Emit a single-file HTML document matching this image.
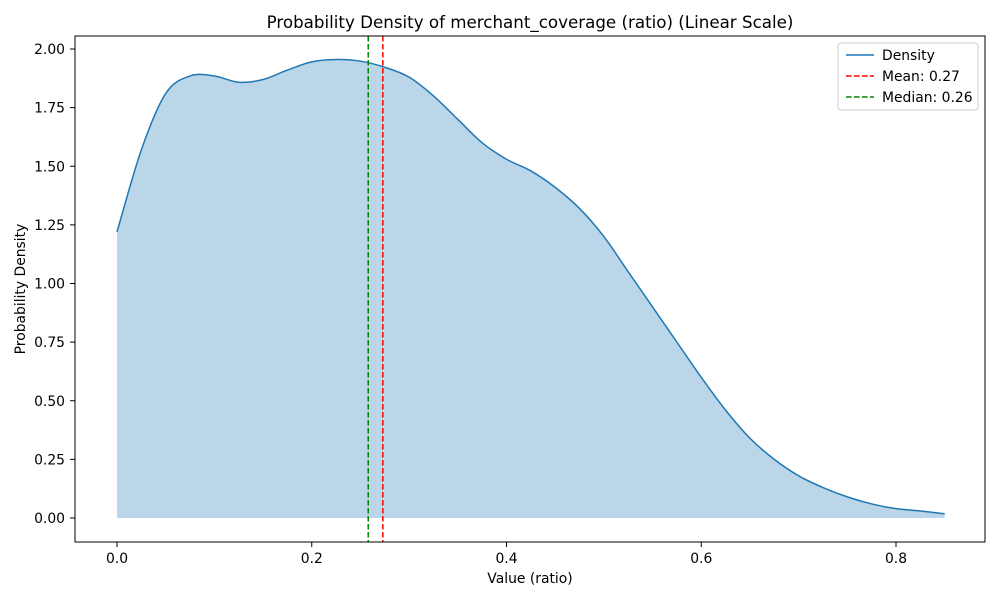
<!DOCTYPE html>
<html><head><meta charset="utf-8"><style>
body{margin:0;background:#fff;font-family:"Liberation Sans","DejaVu Sans",sans-serif;}
svg text{font-family:"DejaVu Sans","Liberation Sans",sans-serif;}
</style></head><body>
<svg id="chart" width="1000" height="600" xmlns="http://www.w3.org/2000/svg"></svg>
<script>
const xValues=[0,0.025,0.05,0.075,0.1,0.125,0.15,0.175,0.2,0.225,0.25,0.275,0.3,0.325,0.35,0.375,0.4,0.425,0.45,0.475,0.5,0.525,0.55,0.575,0.6,0.625,0.65,0.675,0.7,0.725,0.75,0.775,0.8,0.825,0.85];
const densityValues=[1.22,1.57,1.81,1.885,1.885,1.858,1.87,1.91,1.945,1.955,1.948,1.922,1.88,1.80,1.70,1.60,1.53,1.48,1.41,1.32,1.20,1.05,0.90,0.75,0.60,0.46,0.34,0.25,0.18,0.13,0.09,0.06,0.04,0.03,0.018];
const meanValue=0.273, medianValue=0.258;
const xTicks=[0,0.2,0.4,0.6,0.8];
const xTickLabels=["0.0","0.2","0.4","0.6","0.8"];
const yTicks=[0,0.25,0.5,0.75,1,1.25,1.5,1.75,2];
const yTickLabels=["0.00","0.25","0.50","0.75","1.00","1.25","1.50","1.75","2.00"];
const L=75,R=985,T=36,B=542;
const X=v=>117+v*973.75, Y=v=>518-v*234.5;
const svg=document.getElementById('chart');
const NS='http://www.w3.org/2000/svg';
function mk(tag,attrs,parent){const e=document.createElementNS(NS,tag);for(const k in attrs)e.setAttribute(k,attrs[k]);(parent||svg).appendChild(e);return e;}
const pts=xValues.map((x,i)=>[X(x),Y(densityValues[i])]);
let d=`M${pts[0][0]},${pts[0][1]}`;
for(let i=0;i<pts.length-1;i++){const p0=pts[Math.max(0,i-1)],p1=pts[i],p2=pts[i+1],p3=pts[Math.min(pts.length-1,i+2)];
d+=` C${p1[0]+(p2[0]-p0[0])/6},${p1[1]+(p2[1]-p0[1])/6} ${p2[0]-(p3[0]-p1[0])/6},${p2[1]-(p3[1]-p1[1])/6} ${p2[0]},${p2[1]}`;}
const area=mk('path',{d:d+` L${pts[pts.length-1][0]},${Y(0)} L${pts[0][0]},${Y(0)} Z`,fill:'#1f77b4','fill-opacity':0.3,stroke:'none'});


const line=mk('path',{d:d,fill:'none',stroke:'#1f77b4','stroke-width':1.5});


const ml=mk('line',{x1:X(meanValue),x2:X(meanValue),y1:T,y2:B,stroke:'red','stroke-width':1.5,'stroke-dasharray':'5.5,2.5'});


const mdl=mk('line',{x1:X(medianValue),x2:X(medianValue),y1:T,y2:B,stroke:'green','stroke-width':1.5,'stroke-dasharray':'5.5,2.5'});


const frame=mk('rect',{x:L,y:T,width:R-L,height:B-T,fill:'none',stroke:'#000','stroke-width':1});


xTicks.forEach((v,i)=>{mk('line',{x1:X(v),x2:X(v),y1:B,y2:B+5,stroke:'#000'});
const t=mk('text',{x:X(v),y:B+21,'font-size':13.9,'text-anchor':'middle'});t.textContent=xTickLabels[i];

});
yTicks.forEach((v,i)=>{mk('line',{x1:L-5,x2:L,y1:Y(v),y2:Y(v),stroke:'#000'});
const t=mk('text',{x:L-10,y:Y(v)+5,'font-size':13.9,'text-anchor':'end'});t.textContent=yTickLabels[i];

});
const title=mk('text',{x:530,y:28,'font-size':16.7,'text-anchor':'middle'});title.textContent='Probability Density of merchant_coverage (ratio) (Linear Scale)';


const xt=mk('text',{x:530,y:583,'font-size':13.9,'text-anchor':'middle'});xt.textContent='Value (ratio)';


const yt=mk('text',{x:25,y:289,'font-size':13.9,'text-anchor':'middle',transform:'rotate(-90 25 289)'});yt.textContent='Probability Density';


const lg=mk('g',{});


mk('rect',{x:838,y:43,width:140,height:67,rx:3,fill:'#fff',stroke:'#ccc'},lg);
[['Density','#1f77b4',null,55],['Mean: 0.27','red','5.5,2.5',76],['Median: 0.26','green','5.5,2.5',97]].forEach(e=>{
const a={x1:846,x2:874,y1:e[3],y2:e[3],stroke:e[1],'stroke-width':1.5};if(e[2])a['stroke-dasharray']=e[2];mk('line',a,lg);
const t=mk('text',{x:882,y:e[3]+5,'font-size':13.9},lg);t.textContent=e[0];

});
</script>
</body></html>
